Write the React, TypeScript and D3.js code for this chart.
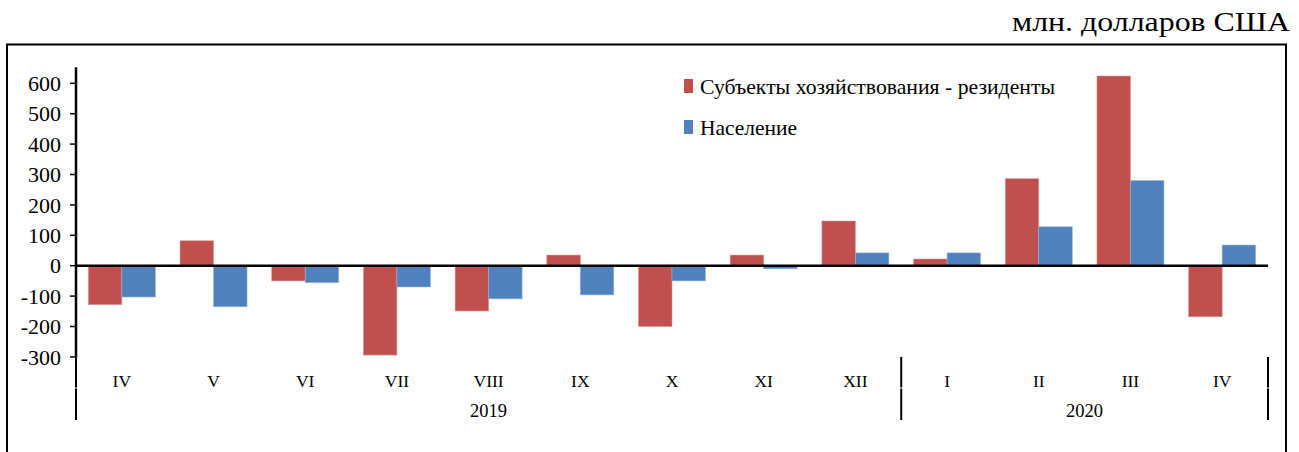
import React from "react";
import * as d3 from "d3";

const categories = ["IV", "V", "VI", "VII", "VIII", "IX", "X", "XI", "XII", "I", "II", "III", "IV"];
const yearLabels = ["2019", "2020"];
const yearSpans = [9, 4];
const seriesNames = ["Субъекты хозяйствования - резиденты", "Население"];
const residents = [-128, 82, -50, -294, -149, 35, -200, 35, 147, 22, 286, 624, -168];
const population = [-103, -135, -56, -70, -109, -96, -50, -10, 42, 42, 128, 280, 68];
const yTicks = [-300, -200, -100, 0, 100, 200, 300, 400, 500, 600];
const yMin = -300;
const yMax = 653;
const unitLabel = "млн. долларов США";

const colors = ["#C0504D", "#4F81BD"];
const FONT = '"Liberation Serif", "Times New Roman", "DejaVu Serif", serif';
const tf = { fontFamily: FONT };

export default function App() {
  const W = 1299;
  const H = 452;
  const left = 76;
  const right = 1268;
  const y = d3.scaleLinear().domain([-300, 600]).range([356.9, 83.3]);
  const x = d3
    .scaleBand<number>()
    .domain(categories.map((_, i) => i))
    .range([left, right])
    .paddingInner(0)
    .paddingOuter(0);
  const sub = d3
    .scaleBand<number>()
    .domain([0, 1])
    .range([0, x.bandwidth()])
    .paddingInner(0)
    .paddingOuter(0.369);
  const data = [residents, population];
  const plotBottom = y(yMin);
  const labelBottom = 420;

  const bounds: number[] = [0];
  yearSpans.forEach((s) => bounds.push(bounds[bounds.length - 1] + s));
  const boundX = (k: number) => (k >= categories.length ? right : x(k)!);

  return (
    <svg
      width={W}
      height={H}
      style={{ position: "absolute", left: 0, top: 0, background: "#fff", fontFamily: FONT }}
    >
      <rect x={0} y={0} width={W} height={H} fill="#fff" />
      <text x={1290} y={31} fontSize={27} textAnchor="end" fill="#000" style={tf} textLength={278} lengthAdjust="spacingAndGlyphs">
        {unitLabel}
      </text>
      <rect x={7} y={44.5} width={1279} height={440} fill="none" stroke="#000" strokeWidth={2} />

      {data.map((vals, s) =>
        vals.map((v, i) => {
          const bx = x(i)! + sub(s)!;
          const y0 = y(0);
          const y1 = y(v);
          return (
            <rect
              key={`${s}-${i}`}
              x={bx}
              y={Math.min(y0, y1)}
              width={sub.bandwidth()}
              height={Math.abs(y1 - y0)}
              fill={colors[s]}
              stroke={s === 0 ? "#D99694" : "#95B3D7"}
              strokeWidth={0.6}
            />
          );
        })
      )}

      <line x1={left} x2={left} y1={y(yMax)} y2={plotBottom} stroke="#000" strokeWidth={2.5} />
      {yTicks.map((t) => (
        <g key={t}>
          <line x1={left - 6} x2={left} y1={y(t)} y2={y(t)} stroke="#000" strokeWidth={1.5} />
          <text x={61} y={y(t)} dy="0.35em" fontSize={22} textAnchor="end" fill="#000" style={tf}>
            {t}
          </text>
        </g>
      ))}

      <line x1={left} x2={right} y1={y(0)} y2={y(0)} stroke="#000" strokeWidth={2.5} />

      {bounds.map((b, k) => (
        <g key={`sep-${k}`}>
          <line x1={boundX(b)} x2={boundX(b)} y1={plotBottom} y2={387.5} stroke="#000" strokeWidth={2} />
          <line x1={boundX(b)} x2={boundX(b)} y1={388.5} y2={labelBottom} stroke="#000" strokeWidth={2} />
        </g>
      ))}
      {categories.map((c, i) => (
        <text
          key={`cat-${i}`}
          x={x(i)! + x.bandwidth() / 2}
          y={381}
          dy="0.35em"
          fontSize={17.5}
          textAnchor="middle"
          fill="#000"
          style={tf}
        >
          {c}
        </text>
      ))}
      {yearLabels.map((yl, k) => (
        <text
          key={`yr-${k}`}
          x={(boundX(bounds[k]) + boundX(bounds[k + 1])) / 2}
          y={411}
          dy="0.35em"
          fontSize={18.5}
          textAnchor="middle"
          fill="#000"
          style={tf}
        >
          {yl}
        </text>
      ))}

      {seriesNames.map((n, s) => {
        const cy = s === 0 ? 86 : 127;
        return (
          <g key={`lg-${s}`}>
            <rect x={684} y={cy - 7} width={9} height={14} fill={colors[s]} />
            <text
              x={700}
              y={cy}
              dy="0.35em"
              fontSize={22}
              fill="#000"
              style={tf}
              textLength={s === 0 ? 355 : 97}
              lengthAdjust="spacingAndGlyphs"
            >
              {n}
            </text>
          </g>
        );
      })}
    </svg>
  );
}
